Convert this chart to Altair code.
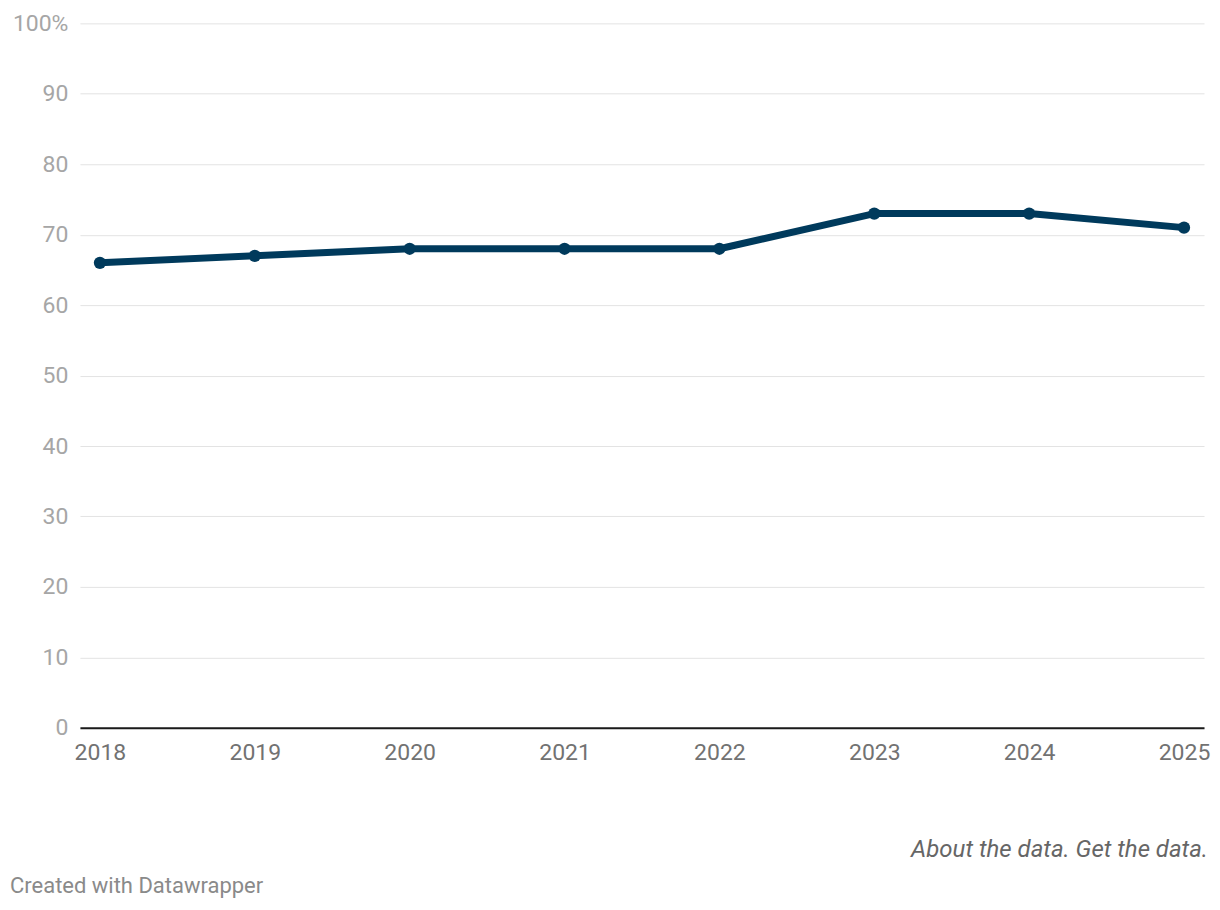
import altair as alt
import pandas as pd

years = [2018, 2019, 2020, 2021, 2022, 2023, 2024, 2025]
values = [66, 67, 68, 68, 68, 73, 73, 71]
y_ticks = [0, 10, 20, 30, 40, 50, 60, 70, 80, 90, 100]

df = pd.DataFrame({"year": years, "value": values})

FONT = "Roboto"
LINE_COLOR = "#003a5c"

x_enc = alt.X(
    "year:Q",
    scale=alt.Scale(domain=[2018, 2025], padding=20, nice=False, zero=False),
    axis=alt.Axis(
        values=years, format="d", title=None, grid=False, ticks=False,
        domain=True, domainColor="#1a1a1a", domainWidth=2,
        labelFont=FONT, labelFontSize=23, labelColor="#727272",
        labelPadding=14, labelFlush=False,
    ),
)
y_enc = alt.Y(
    "value:Q",
    scale=alt.Scale(domain=[0, 100], nice=False),
    axis=alt.Axis(
        values=y_ticks, title=None, grid=True, gridColor="#e3e3e3", gridWidth=1,
        ticks=False, domain=False,
        labelFont=FONT, labelFontSize=23, labelColor="#a6a6a6",
        labelPadding=12,
        labelExpr="datum.value == 100 ? '100%' : datum.label",
    ),
)

base = alt.Chart(df)
line = base.mark_line(color=LINE_COLOR, strokeWidth=7, strokeJoin="round").encode(x=x_enc, y=y_enc)
points = base.mark_point(filled=True, color=LINE_COLOR, size=150, opacity=1).encode(x=x_enc, y=y_enc)

foot_df = pd.DataFrame({"t": ["About the data. Get the data."]})
about = alt.Chart(foot_df).mark_text(
    align="right", baseline="middle", font=FONT, fontSize=24, fontStyle="italic",
    color="#666666",
).encode(text="t:N", x=alt.value(1129), y=alt.value(827))

credit_df = pd.DataFrame({"t": ["Created with Datawrapper"]})
credit = alt.Chart(credit_df).mark_text(
    align="left", baseline="middle", font=FONT, fontSize=22, color="#8a8a8a",
).encode(text="t:N", x=alt.value(-70), y=alt.value(863))

chart = alt.layer(line, points, about, credit).properties(
    width=1125, height=705,
    autosize=alt.AutoSizeParams(type="none"),
    padding={"left": 72, "top": 15, "right": 8, "bottom": 174},
    background="white",
).configure_view(stroke=None)

chart.save("out.html", embed_options={"renderer": "svg", "actions": False})
